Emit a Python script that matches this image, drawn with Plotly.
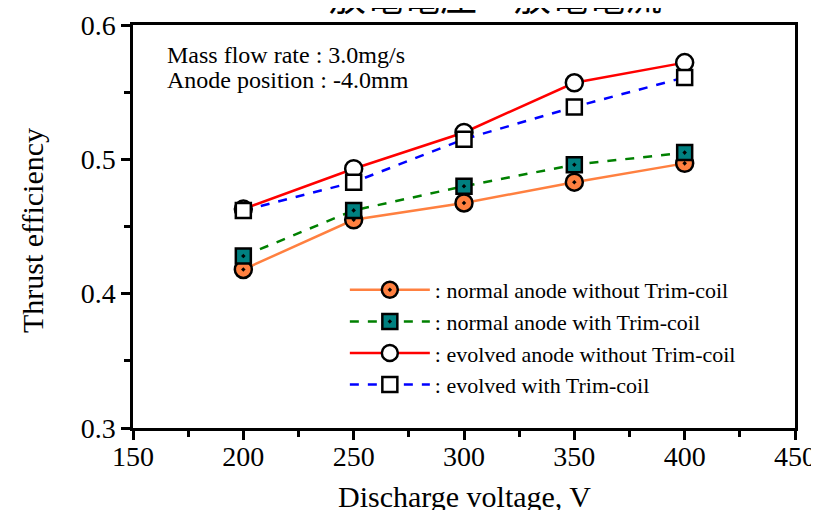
import plotly.graph_objects as go

voltage = [200, 250, 300, 350, 400]
normal_no_trim = [0.418, 0.455, 0.4675, 0.483, 0.497]
normal_trim = [0.428, 0.462, 0.480, 0.496, 0.505]
evolved_no_trim = [0.463, 0.493, 0.520, 0.557, 0.572]
evolved_trim = [0.462, 0.483, 0.515, 0.539, 0.561]

names = [": normal anode without Trim-coil",
         ": normal anode with Trim-coil",
         ": evolved anode without Trim-coil",
         ": evolved with Trim-coil"]

x_ticks = [150, 200, 250, 300, 350, 400, 450]
y_ticks = [0.3, 0.4, 0.5, 0.6]
y_ticktext = ["0.3", "0.4", "0.5", "0.6"]

FONT = "Liberation Serif"

fig = go.Figure()
fig.add_trace(go.Scatter(x=voltage, y=normal_no_trim, name=names[0], mode="lines+markers",
                         line=dict(color="#FF8040", width=2.5),
                         marker=dict(symbol="circle-dot", size=17, color="#FF8040",
                                     line=dict(color="black", width=2.5))))
fig.add_trace(go.Scatter(x=voltage, y=normal_trim, name=names[1], mode="lines+markers",
                         line=dict(color="#008000", width=2.5, dash="dash"),
                         marker=dict(symbol="square-dot", size=15, color="#008080",
                                     line=dict(color="black", width=2.5))))
fig.add_trace(go.Scatter(x=voltage, y=evolved_no_trim, name=names[2], mode="lines+markers",
                         line=dict(color="#FF0000", width=2.5),
                         marker=dict(symbol="circle", size=17, color="white",
                                     line=dict(color="black", width=2.5))))
fig.add_trace(go.Scatter(x=voltage, y=evolved_trim, name=names[3], mode="lines+markers",
                         line=dict(color="#0000FF", width=2.5, dash="dash"),
                         marker=dict(symbol="square", size=15, color="white",
                                     line=dict(color="black", width=2.5))))

axis_common = dict(showline=True, linecolor="black", linewidth=2.5, mirror=True,
                   ticks="outside", ticklen=9, tickwidth=2.5, tickcolor="black",
                   showgrid=False, zeroline=False, automargin=False,
                   tickfont=dict(family=FONT, size=28, color="black"))

fig.update_xaxes(range=[150, 450], tickvals=x_ticks, ticklabelstandoff=-7,
                 minor=dict(ticks="outside", ticklen=6, tickwidth=2.5, tickcolor="black",
                            dtick=25, tick0=150, showgrid=False),
                 **axis_common)
fig.update_yaxes(range=[0.3, 0.6], tickvals=y_ticks, ticktext=y_ticktext,
                 minor=dict(ticks="outside", ticklen=6, tickwidth=2.5, tickcolor="black",
                            dtick=0.05, tick0=0.3, showgrid=False),
                 **axis_common)

fig.add_annotation(text="Discharge voltage, V", xref="paper", yref="paper",
                   x=0.5, y=-0.171, xanchor="center", yanchor="middle", showarrow=False,
                   font=dict(family=FONT, size=30, color="black"))
fig.add_annotation(text="Thrust efficiency", xref="paper", yref="paper", textangle=-90,
                   x=-0.1526, y=0.491, xanchor="center", yanchor="middle", showarrow=False,
                   font=dict(family=FONT, size=30, color="black"))
fig.add_annotation(text="Mass flow rate : 3.0mg/s",
                   xref="paper", yref="paper", x=0.048, y=0.9256, xanchor="left", yanchor="middle",
                   align="left", showarrow=False,
                   font=dict(family=FONT, size=24, color="black"))
fig.add_annotation(text="Anode position : -4.0mm",
                   xref="paper", yref="paper", x=0.048, y=0.8635, xanchor="left", yanchor="middle",
                   align="left", showarrow=False,
                   font=dict(family=FONT, size=24, color="black"))
fig.add_annotation(text="放電電圧 − 放電電流", xref="paper", yref="paper",
                   x=0.547, y=1.075, xanchor="center", yanchor="middle", showarrow=False,
                   font=dict(family="Noto Sans CJK JP", size=37, color="black"))

fig.update_layout(
    width=819, height=510,
    margin=dict(l=125, r=32, t=17, b=90),
    paper_bgcolor="white", plot_bgcolor="white",
    showlegend=True,
    legend=dict(x=0.320, y=0.3945, xanchor="left", yanchor="top", bgcolor="rgba(0,0,0,0)",
                font=dict(family=FONT, size=22, color="black"),
                itemwidth=80, tracegroupgap=0),
)

fig.write_html("out.html")
